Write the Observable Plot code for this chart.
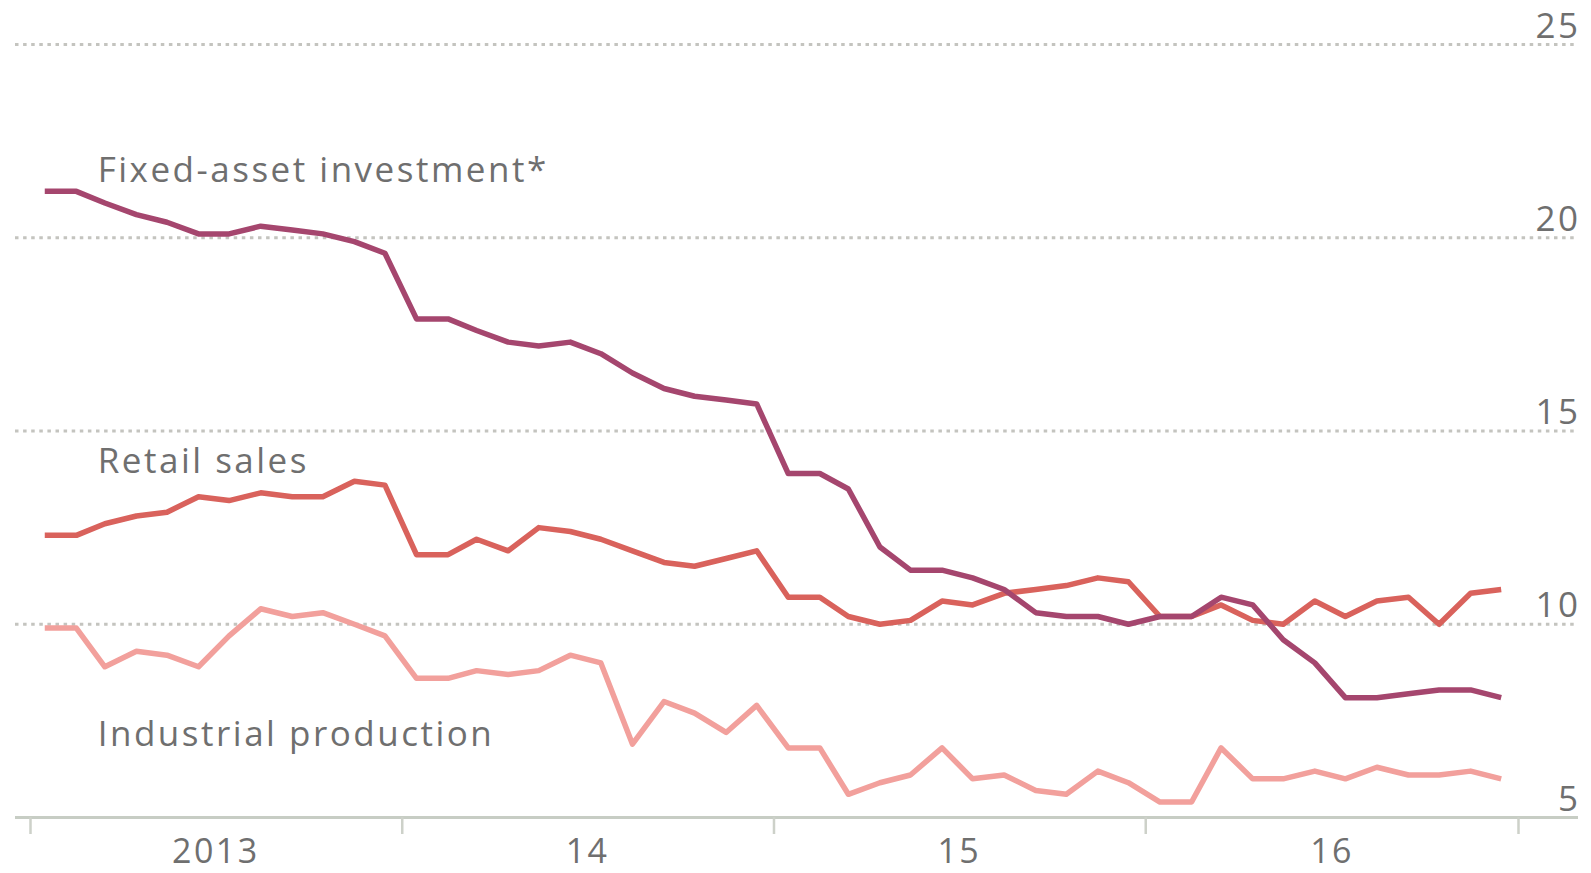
<!DOCTYPE html>
<html>
<head>
<meta charset="utf-8">
<script src="https://cdn.jsdelivr.net/npm/d3@7"></script>
<script src="https://cdn.jsdelivr.net/npm/@observablehq/plot@0.6"></script>
<style>
  html, body { margin: 0; padding: 0; background: #ffffff; }
  #chart svg { display: block; }
</style>
</head>
<body>
<div id="chart"></div>
<script>
// Months (points drawn mid-month)
const months = [
  "2013-01","2013-02","2013-03","2013-04","2013-05","2013-06","2013-07","2013-08","2013-09","2013-10","2013-11","2013-12",
  "2014-01","2014-02","2014-03","2014-04","2014-05","2014-06","2014-07","2014-08","2014-09","2014-10","2014-11","2014-12",
  "2015-01","2015-02","2015-03","2015-04","2015-05","2015-06","2015-07","2015-08","2015-09","2015-10","2015-11","2015-12",
  "2016-01","2016-02","2016-03","2016-04","2016-05","2016-06","2016-07","2016-08","2016-09","2016-10","2016-11","2016-12"
];

const fixedAssetInvestment = [
  21.2,21.2,20.9,20.6,20.4,20.1,20.1,20.3,20.2,20.1,19.9,19.6,
  17.9,17.9,17.6,17.3,17.2,17.3,17.0,16.5,16.1,15.9,15.8,15.7,
  13.9,13.9,13.5,12.0,11.4,11.4,11.2,10.9,10.3,10.2,10.2,10.0,
  10.2,10.2,10.7,10.5,9.6,9.0,8.1,8.1,8.2,8.3,8.3,8.1
];

const retailSales = [
  12.3,12.3,12.6,12.8,12.9,13.3,13.2,13.4,13.3,13.3,13.7,13.6,
  11.8,11.8,12.2,11.9,12.5,12.4,12.2,11.9,11.6,11.5,11.7,11.9,
  10.7,10.7,10.2,10.0,10.1,10.6,10.5,10.8,10.9,11.0,11.2,11.1,
  10.2,10.2,10.5,10.1,10.0,10.6,10.2,10.6,10.7,10.0,10.8,10.9
];

const industrialProduction = [
  9.9,9.9,8.9,9.3,9.2,8.9,9.7,10.4,10.2,10.3,10.0,9.7,
  8.6,8.6,8.8,8.7,8.8,9.2,9.0,6.9,8.0,7.7,7.2,7.9,
  6.8,6.8,5.6,5.9,6.1,6.8,6.0,6.1,5.7,5.6,6.2,5.9,
  5.4,5.4,6.8,6.0,6.0,6.2,6.0,6.3,6.1,6.1,6.2,6.0
];

const seriesNames = ["Industrial production", "Retail sales", "Fixed-asset investment*"];
const seriesColors = ["#f2a09c", "#d9625c", "#a5466e"];

// Series labels: anchor date and value (text baseline)
const labelDates = ["2013-03-08", "2013-03-08", "2013-03-08"];
const labelValues = [6.84, 13.92, 21.45];

const yTicks = [5, 10, 15, 20, 25];
const yearTickDates = ["2013-01-01", "2014-01-01", "2015-01-01", "2016-01-01", "2017-01-01"];
const yearLabels = ["2013", "14", "15", "16"];
const yearLabelDates = ["2013-07-02", "2014-07-02", "2015-07-02", "2016-07-02"];

// Build table
const seriesValues = [industrialProduction, retailSales, fixedAssetInvestment];
const rows = [];
seriesNames.forEach((name, s) => {
  months.forEach((m, i) => {
    rows.push({date: new Date(m + "-15T00:00:00Z"), value: seriesValues[s][i], series: name});
  });
});
const labels = seriesNames.map((name, i) => ({
  date: new Date(labelDates[i] + "T00:00:00Z"), value: labelValues[i], text: name
}));

const textColor = "#6f6f6f";

const chart = Plot.plot({
  width: 1591,
  height: 873,
  marginLeft: 30,
  marginRight: 73,
  marginTop: 44,
  marginBottom: 56,
  style: {fontFamily: "'Open Sans', sans-serif", fontSize: "35px", letterSpacing: "2.5px", background: "#ffffff"},
  x: {type: "utc", domain: [new Date("2013-01-01T00:00:00Z"), new Date("2017-01-01T00:00:00Z")]},
  y: {domain: [5, 25], axis: null},
  color: {domain: seriesNames, range: seriesColors},
  marks: [
    Plot.ruleY(yTicks.filter(d => d > 5), {
      stroke: "#c4c4bf", strokeWidth: 3, strokeDasharray: "3.5,4.6",
      insetLeft: -15, insetRight: -60
    }),
    Plot.ruleY([5], {stroke: "#c7cdc4", strokeWidth: 3, insetLeft: -15, insetRight: -60}),
    Plot.axisX({
      ticks: yearTickDates.map(d => new Date(d + "T00:00:00Z")),
      tickSize: 17, tickFormat: () => "", stroke: "#cdd1c9", strokeWidth: 2.5
    }),
    Plot.text(yearLabelDates, {
      x: d => new Date(d + "T00:00:00Z"),
      text: (d, i) => yearLabels[i],
      frameAnchor: "bottom", lineAnchor: "bottom", dy: 45,
      fill: textColor, fontSize: 34
    }),
    Plot.text(yTicks, {
      y: d => d, text: d => String(d),
      frameAnchor: "right", textAnchor: "end", lineAnchor: "bottom",
      dx: 62, dy: -7, fill: textColor, fontSize: 35
    }),
    Plot.lineY(rows, {
      x: "date", y: "value", z: "series", stroke: "series",
      strokeWidth: 5.5, strokeLinejoin: "round", strokeLinecap: "butt"
    }),
    Plot.text(labels, {
      x: "date", y: "value", text: "text",
      textAnchor: "start", lineAnchor: "bottom",
      fill: textColor, fontSize: 35
    })
  ]
});

document.getElementById("chart").appendChild(chart);
</script>
</body>
</html>
